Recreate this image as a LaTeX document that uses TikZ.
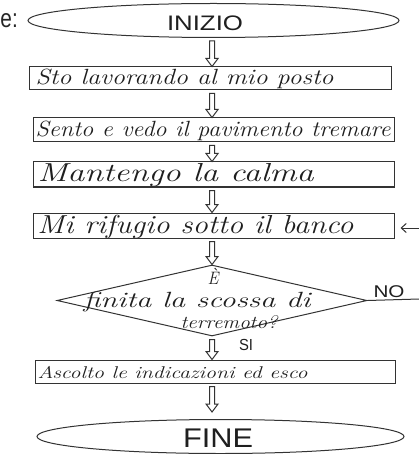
\documentclass[tikz,border=0pt]{standalone}
\usepackage{fontspec}
\usepackage{graphicx}
\usetikzlibrary{calc,shapes.geometric,arrows.meta}
\newfontfamily\labelsans{Liberation Sans}
\newcommand{\handtext}[3]{{\fontsize{#1}{#1}\selectfont\itshape\resizebox{#2pt}{\height}{#3}}}
\newcommand{\capstext}[3]{{\labelsans\fontsize{#1}{#1}\selectfont\resizebox{#2pt}{\height}{#3}}}
\begin{document}
\begin{tikzpicture}[x=1pt,y=-1pt,
  line width=1pt,
  ink/.style={draw=black!80},
  oval/.style={ellipse, ink, inner sep=0pt},
  stepbox/.style={rectangle, ink, inner sep=0pt},
  decision/.style={diamond, ink, inner sep=0pt},
  txt/.style={inner sep=0pt, anchor=base west, text=black!88},
  ctxt/.style={inner sep=0pt, anchor=base, text=black!88},
  blockarrow/.style={ink, line join=miter, to path={let \p1=(\tikztostart), \p2=(\tikztotarget) in
    (\x1-2.5pt,\y1-3pt) -- (\x1-2.5pt,\y2+8pt) -- (\x1-6pt,\y2+8pt) -- (\x1,\y2) --
    (\x1+6pt,\y2+8pt) -- (\x1+2.5pt,\y2+8pt) -- (\x1+2.5pt,\y1-3pt) -- cycle}},
]
\useasboundingbox[fill=white] (0,0) rectangle (419,454);

% cropped caption
\node[txt, text=black!85] (cap) at (0,28) {\labelsans\fontsize{26}{26}\selectfont\scalebox{0.8}[1]{e:}};

% terminals
\node[oval, minimum width=371pt, minimum height=34pt] (inizio) at (213.5,20.5) {};
\node[ctxt] (inizioT) at (205,31) {\capstext{21}{76}{INIZIO}};
\node[oval, minimum width=367pt, minimum height=34pt] (fine) at (220.5,436.5) {};
\node[ctxt] (fineT) at (218,447) {\capstext{27}{70}{FINE}};

% steps
\node[stepbox, minimum width=362pt, minimum height=23pt] (b1) at (210,78.5) {};
\node[stepbox, minimum width=361pt, minimum height=24pt] (b2) at (213.5,130) {};
\node[stepbox, minimum width=361pt, minimum height=25pt] (b3) at (213.5,174.5) {};
\node[stepbox, minimum width=361pt, minimum height=25pt] (b4) at (213.5,225.5) {};
\node[stepbox, minimum width=360pt, minimum height=23pt] (b5) at (215,371.5) {};

\node[txt] (t1) at (35,85) {\handtext{22}{298}{Sto lavorando al mio posto}};
\node[txt] (t2) at (35,137) {\handtext{22}{355}{Sento e vedo il pavimento tremare}};
\node[txt] (t3) at (37,181) {\handtext{26}{276}{Mantengo la calma}};
\node[txt] (t4) at (37,233) {\handtext{26}{316}{Mi rifugio sotto il banco}};
\node[txt] (t5) at (37,378) {\handtext{17}{270}{Ascolto le indicazioni ed esco}};

% decision
\node[decision, minimum width=310pt, minimum height=71pt] (q) at (212,300.5) {};
\node[ctxt] (qa) at (213,284) {\handtext{18}{11}{È}};
\node[txt] (qb) at (83,307) {\handtext{22}{227}{finita la scossa di}};
\node[txt] (qc) at (180,328) {\handtext{18}{97}{terremoto?}};
\node[ctxt] (no) at (389,297) {\capstext{17}{31}{NO}};
\node[ctxt] (si) at (246,350) {\capstext{16}{14}{SI}};

% connectors
\coordinate (ax) at (212,0);
\draw[blockarrow] (inizio.south -| ax) to (b1.north -| ax);
\draw[blockarrow] (b1.south -| ax) to (b2.north -| ax);
\draw[blockarrow] (b2.south -| ax) to (b3.north -| ax);
\draw[blockarrow] (b3.south -| ax) to (b4.north -| ax);
\draw[blockarrow] (b4.south -| ax) to (q.north -| ax);
\draw[blockarrow] (q.south -| ax) to (b5.north -| ax);
\coordinate (fineTop) at ($(fine.north)+(0,-7)$);
\draw[blockarrow] (b5.south -| ax) to (fineTop -| ax);

\coordinate (noexit) at (419,299);
\draw[ink] (q.east) -- (noexit);
\coordinate (loopin) at (419,228);
\draw[ink, -{Straight Barb[length=5pt,width=9pt]}] (loopin) -- ($(b4.east)+(6,2.5)$);
\end{tikzpicture}
\end{document}
